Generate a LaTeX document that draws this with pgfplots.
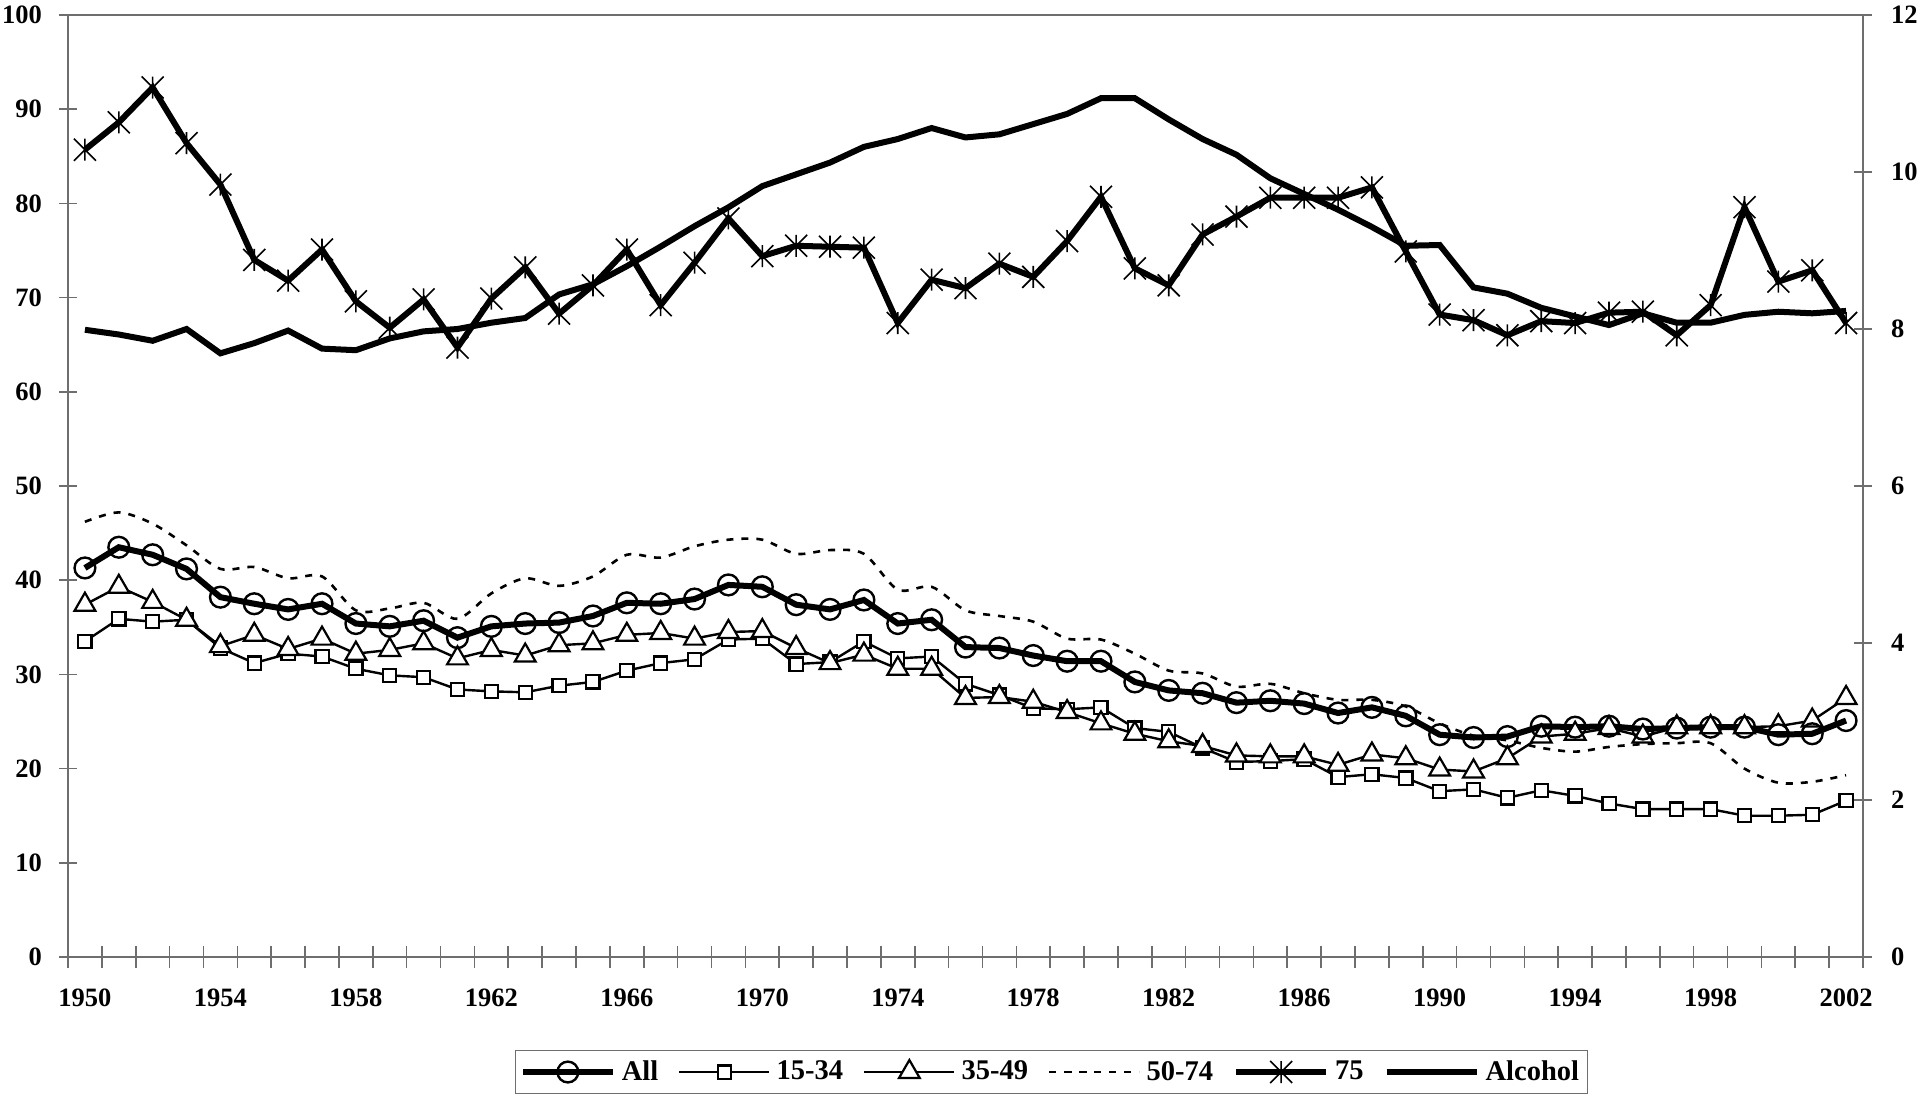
\documentclass[border=0pt]{standalone}
\usepackage{pgfplots}
\usepackage{pgfplotstable}
\pgfplotsset{compat=1.18}
\usepackage{fontspec}
\setmainfont{Liberation Serif}

\definecolor{axgray}{RGB}{110,110,110}

\pgfdeclareplotmark{xstar}{%
  \pgfpathmoveto{\pgfqpoint{0pt}{-\pgfplotmarksize}}%
  \pgfpathlineto{\pgfqpoint{0pt}{\pgfplotmarksize}}%
  \pgfpathmoveto{\pgfqpoint{-\pgfplotmarksize}{-\pgfplotmarksize}}%
  \pgfpathlineto{\pgfqpoint{\pgfplotmarksize}{\pgfplotmarksize}}%
  \pgfpathmoveto{\pgfqpoint{-\pgfplotmarksize}{\pgfplotmarksize}}%
  \pgfpathlineto{\pgfqpoint{\pgfplotmarksize}{-\pgfplotmarksize}}%
  \pgfusepathqstroke
}

\pgfplotstableread{
year all a1534 a3549 a5074 a75 alc
1950 41.3 33.5 37.4 46.2 85.7 7.99
1951 43.5 35.9 39.3 47.2 88.6 7.93
1952 42.7 35.6 37.7 46.0 92.3 7.85
1953 41.2 35.8 35.8 43.7 86.4 8.00
1954 38.2 32.8 33.0 41.2 82.0 7.69
1955 37.5 31.2 34.2 41.4 74.0 7.82
1956 36.9 32.2 32.7 40.2 71.8 7.98
1957 37.5 31.9 33.8 40.4 75.1 7.75
1958 35.4 30.6 32.2 36.8 69.6 7.73
1959 35.1 29.9 32.6 37.0 66.8 7.88
1960 35.7 29.7 33.3 37.6 69.8 7.97
1961 33.9 28.4 31.7 35.9 64.7 8.00
1962 35.1 28.2 32.6 38.6 69.9 8.08
1963 35.4 28.1 32.0 40.2 73.2 8.14
1964 35.5 28.8 33.1 39.4 68.3 8.44
1965 36.2 29.2 33.3 40.4 71.3 8.57
1966 37.6 30.4 34.2 42.7 75.1 8.80
1967 37.5 31.2 34.4 42.4 69.2 9.05
1968 38.0 31.6 33.8 43.6 73.7 9.31
1969 39.5 33.7 34.5 44.3 78.4 9.55
1970 39.3 33.8 34.6 44.3 74.4 9.82
1971 37.4 31.1 32.8 42.8 75.5 9.97
1972 36.9 31.3 31.2 43.2 75.4 10.12
1973 37.9 33.5 32.1 42.8 75.3 10.32
1974 35.4 31.7 30.6 39.0 67.3 10.42
1975 35.8 31.9 30.6 39.3 71.9 10.56
1976 32.9 29.0 27.5 36.8 71.0 10.44
1977 32.8 27.8 27.6 36.2 73.6 10.48
1978 32.0 26.4 27.1 35.6 72.2 10.61
1979 31.4 26.3 26.0 33.8 76.0 10.74
1980 31.4 26.5 24.8 33.7 80.7 10.94
1981 29.2 24.3 23.7 32.2 73.1 10.94
1982 28.3 23.9 22.9 30.4 71.3 10.67
1983 28.0 22.2 22.4 30.1 76.7 10.42
1984 27.0 20.7 21.4 28.7 78.6 10.22
1985 27.2 20.8 21.3 29.0 80.6 9.92
1986 26.9 21.0 21.3 28.0 80.6 9.72
1987 25.9 19.1 20.4 27.3 80.6 9.52
1988 26.5 19.4 21.5 27.3 81.7 9.30
1989 25.6 19.0 21.1 26.6 74.9 9.06
1990 23.6 17.6 19.9 24.8 68.2 9.07
1991 23.3 17.8 19.7 23.5 67.6 8.53
1992 23.4 16.9 21.1 23.0 66.0 8.45
1993 24.5 17.7 23.4 22.2 67.5 8.27
1994 24.4 17.1 23.7 21.8 67.3 8.16
1995 24.5 16.3 24.3 22.3 68.4 8.05
1996 24.2 15.7 23.4 22.6 68.5 8.20
1997 24.3 15.7 24.4 22.7 66.0 8.08
1998 24.4 15.7 24.4 22.7 69.2 8.08
1999 24.4 15.0 24.4 20.0 79.6 8.18
2000 23.6 15.0 24.5 18.5 71.7 8.22
2001 23.7 15.1 25.1 18.6 72.9 8.20
2002 25.1 16.6 27.5 19.3 67.3 8.23
}\data

\tikzset{
  sAll/.style={black, line width=3pt, mark=o, mark size=5.2pt, mark options={fill=white, line width=1.2pt}},
  sA/.style={black, line width=1.2pt, mark=square*, mark size=3.3pt, mark options={fill=white, line width=1.1pt}},
  sB/.style={black, line width=1.2pt, mark=triangle*, mark size=6pt, mark options={fill=white, line width=1.1pt}},
  sC/.style={black, line width=1.3pt, dash pattern=on 3.5pt off 4pt, smooth, tension=0.5, mark=none},
  sD/.style={black, line width=3pt, mark=xstar, mark size=5.5pt, mark options={line width=0.8pt, solid}},
  sE/.style={black, line width=3pt, mark=none},
}

\pgfplotsset{
  common/.style={
    at={(0pt,0pt)}, anchor=south west,
    width=897.5pt, height=471pt, scale only axis,
    xmin=1949.5, xmax=2002.5,
    tick align=center,
    major tick length=9pt,
    minor tick length=11pt,
    every tick/.style={axgray, line width=0.8pt},
    axis line style={axgray, line width=1.2pt},
    tick label style={font=\fontsize{13.25pt}{16pt}\selectfont\bfseries},
    /pgf/number format/assume math mode=true,
    /pgf/number format/1000 sep={},
    clip=false,
  }
}

\begin{document}
\begin{tikzpicture}
\useasboundingbox (-34pt,-71pt) rectangle (926pt,478.5pt);
\begin{axis}[common,
  ymin=0, ymax=100,
  ytick={0,10,...,100},
  ytick pos=left,
  xtick pos=bottom,
  xtick={1950,1954,...,2002},
  minor xtick={1949.5,1950.5,...,2002.5},
  major x tick style={draw=none},
  xticklabel style={yshift=-8pt},
  yticklabel style={xshift=-5pt},
]
\addplot[sC] table[x=year,y=a5074]{\data};
\addplot[sA] table[x=year,y=a1534]{\data};
\addplot[sB] table[x=year,y=a3549]{\data};
\addplot[sAll] table[x=year,y=all]{\data};
\addplot[sD] table[x=year,y=a75]{\data};
\end{axis}
\begin{axis}[common,
  ymin=0, ymax=12,
  ytick={0,2,...,12},
  axis y line*=right,
  axis x line=none,
  yticklabel style={xshift=6pt},
  legend columns=6,
  legend style={at={(0.5479,-0.1221)}, anchor=center, draw=axgray, line width=0.6pt,
    font=\fontsize{14.25pt}{16pt}\selectfont\bfseries, inner xsep=2pt, inner ysep=3pt,
    /tikz/every odd column/.append style={column sep=1pt},
    /tikz/every even column/.append style={column sep=8pt}},
  legend image code/.code={%
    \draw[mark repeat=2,mark phase=2,#1] plot coordinates {(0pt,0pt) (22.5pt,0pt) (45pt,0pt)};},
]
\addlegendimage{sAll}
\addlegendentry{All}
\addlegendimage{sA}
\addlegendentry{15-34}
\addlegendimage{sB}
\addlegendentry{35-49}
\addlegendimage{sC}
\addlegendentry{50-74}
\addlegendimage{sD}
\addlegendentry{75}
\addplot[sE] table[x=year,y=alc]{\data};
\addlegendentry{Alcohol}
\draw[axgray, line width=1.2pt] (rel axis cs:0,1) -- (rel axis cs:1,1);
\end{axis}
\end{tikzpicture}
\end{document}
